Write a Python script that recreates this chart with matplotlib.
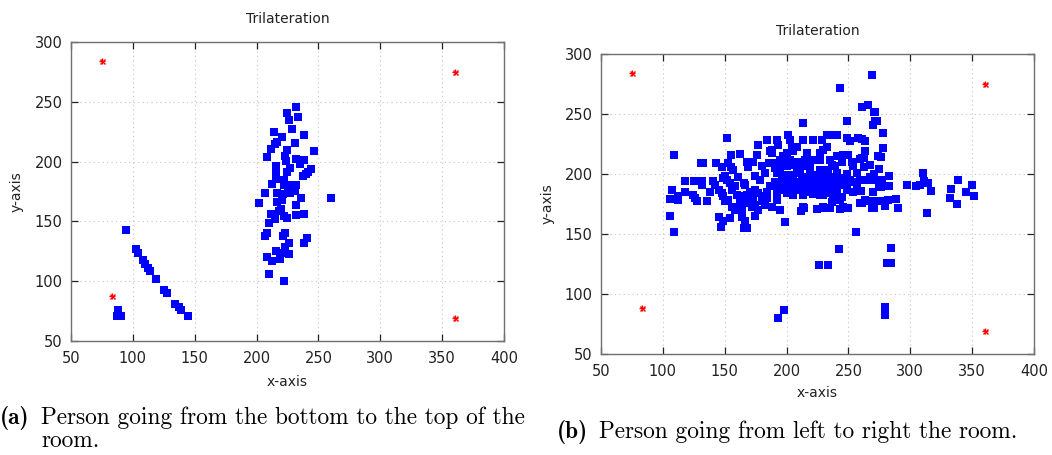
import matplotlib
matplotlib.use("Agg")
import matplotlib.pyplot as plt
import numpy as np

# Anchor (beacon) positions, same in both runs
anchor_x = [75, 83, 360, 360]
anchor_y = [284, 88, 275, 69]

# Run (a): walking from the bottom to the top of the room
a_x = [94.2, 102.2, 104.1, 108.2, 110.0, 112.2, 114.1, 118.4, 125.1, 127.5, 134.3, 137.0, 138.9, 144.2,
       88.0, 88.0, 90.1, 87.5,
       231.5, 224.7, 233.4, 226.1, 228.8, 214.2, 238.7, 220.7, 216.7, 214.8, 230.7, 211.3, 224.7, 246.3,
       208.6, 222.6, 232.0, 238.2, 223.4, 234.7, 215.6, 226.9, 244.1, 241.9, 224.2, 239.8, 237.7, 216.1,
       216.1, 222.1, 212.6, 222.1, 228.8, 231.8, 225.3, 229.6, 226.9, 231.2, 207.2, 216.6, 221.5, 236.3,
       260.3, 220.9, 201.9, 216.6, 231.5, 219.6, 218.3, 211.3, 238.2, 232.0, 222.1, 224.7, 214.8, 210.0,
       208.6, 207.2, 222.9, 221.5, 240.6, 238.2, 226.6, 222.9, 215.9, 220.7, 226.1, 208.6, 212.6, 218.6,
       210.0, 222.1]
a_y = [142.8, 126.9, 123.6, 117.5, 114.4, 111.3, 108.5, 102.1, 92.9, 90.1, 81.2, 78.4, 75.6, 70.9,
       75.6, 72.3, 70.9, 71.0,
       245.4, 240.6, 237.6, 235.1, 227.3, 224.5, 222.5, 220.6, 216.4, 214.7, 215.6, 210.8, 210.0, 208.6,
       203.8, 204.4, 202.5, 201.6, 200.5, 198.3, 196.3, 194.9, 193.5, 191.6, 191.3, 189.4, 188.0, 189.4,
       185.2, 184.3, 181.0, 180.7, 180.2, 180.2, 178.2, 177.4, 174.0, 175.4, 174.0, 174.0, 172.6, 169.8,
       169.8, 167.9, 165.1, 165.9, 163.7, 160.1, 158.7, 156.2, 155.9, 155.4, 154.8, 152.6, 151.7, 148.9,
       140.3, 137.5, 140.3, 137.5, 136.4, 131.9, 131.9, 128.9, 125.0, 123.6, 122.7, 120.5, 117.2, 118.6,
       106.0, 99.9]

# Run (b): walking from left to right across the room
b_x = [152.2, 109.2, 130.7, 132.8, 142.8, 147.7, 152.5, 155.2, 157.1, 154.7, 162.5, 167.9, 169.2, 173.2,
       175.9, 176.7, 184.0, 186.7, 118.0, 124.8, 131.5, 132.0, 140.9, 142.3, 149.0, 150.4, 151.7, 154.4,
       161.1, 165.2, 166.5, 107.3, 112.1, 112.1, 105.9, 118.0, 124.2, 126.1, 127.5, 135.5, 138.2, 145.0,
       147.7, 149.0, 150.4, 153.0, 155.7, 158.4, 161.1, 163.8, 166.5, 169.2, 173.2, 174.6, 180.0, 182.7,
       105.9, 109.4, 145.0, 148.5, 154.4, 163.8, 166.5, 165.2, 167.9, 147.1, 174.6, 155.7, 159.8, 163.8,
       167.9, 170.6, 174.6, 177.3, 180.0, 184.0, 186.7, 158.4, 162.5, 171.9, 177.3, 184.0, 180.0, 185.4,
       182.7, 174.6, 178.6,
       213.1, 248.6, 201.5, 202.9, 192.1, 193.4, 204.2, 208.2, 213.6, 221.7, 228.4, 232.5, 235.2, 240.6,
       248.6, 251.3, 258.1, 232.5, 188.0, 188.0, 200.2, 205.6, 215.0, 221.7, 227.1, 235.2, 240.6, 245.9,
       250.0, 259.4, 188.0, 197.5, 208.2, 213.6, 219.0, 227.1, 236.5, 239.2, 248.6, 256.7, 192.1, 196.1,
       202.9, 198.8, 205.6, 210.9, 219.0, 224.4, 228.4, 232.5, 237.9, 244.6, 251.3, 254.0, 189.4, 197.5,
       202.9, 208.2, 213.6, 219.0, 224.4, 229.8, 235.2, 240.6, 248.6, 256.7, 192.1, 200.2, 213.6, 221.7,
       227.1, 232.5, 244.6, 254.0, 192.1, 188.0, 194.8, 213.6, 224.4, 229.8, 236.5, 243.2, 245.9, 250.0,
       259.4, 198.8, 256.2,
       190.7, 194.8, 200.2, 204.2, 210.9, 216.3, 221.7, 227.1, 231.1, 233.8, 240.6, 243.3, 247.3, 243.3,
       239.2, 233.8, 229.8, 224.4, 221.7, 216.3, 212.3, 206.9, 201.5, 196.1, 190.7, 193.4, 198.8, 205.6,
       217.7, 229.8, 237.9, 240.6, 209.6, 202.9, 194.8, 219.0, 254.0, 252.7, 244.6, 216.3, 197.5, 227.1,
       229.8, 211.8, 213.7, 231.2, 235.2, 243.3,
       269.0, 260.9, 265.5, 270.9, 271.7, 271.7, 273.0, 269.5, 277.9, 260.9, 263.6, 277.9, 263.6, 260.9,
       262.2, 273.5, 276.3, 262.8, 267.1, 274.9, 283.0, 270.3, 267.6, 264.9, 271.7, 277.1, 259.5, 274.4,
       276.3, 282.5, 269.5, 260.0, 263.6, 267.6, 271.7, 275.7, 279.8, 281.6, 260.9, 269.0, 270.3, 279.5,
       288.4, 290.0, 297.3, 304.9, 308.1, 311.3, 310.0, 314.3, 316.7, 313.5, 338.3, 333.2, 332.4, 337.8,
       345.3, 349.9, 351.8,
       243.3, 242.5, 226.6, 233.3, 198.3, 193.2, 284.8, 281.0, 284.2, 279.4, 279.4]
b_y = [229.9, 215.5, 209.4, 209.4, 209.4, 205.7, 209.1, 205.7, 203.0, 215.5, 216.9, 209.6, 205.7, 209.6,
       216.0, 224.4, 228.6, 218.8, 194.1, 194.1, 194.1, 191.0, 193.8, 191.0, 196.6, 198.0, 195.2, 192.4,
       197.4, 192.4, 191.0, 186.3, 181.3, 178.5, 179.0, 184.9, 182.7, 179.9, 177.1, 177.6, 185.2, 186.8,
       184.0, 181.3, 177.1, 178.5, 172.9, 170.1, 172.9, 170.1, 175.7, 177.1, 179.9, 174.3, 177.1, 174.3,
       165.4, 151.5, 164.0, 161.2, 163.7, 164.0, 161.2, 155.4, 155.4, 155.7, 165.1, 186.8, 182.7, 181.3,
       182.7, 185.4, 186.8, 184.0, 181.3, 185.4, 189.6, 189.6, 178.5, 172.9, 170.1, 179.9, 206.3, 209.1,
       200.7, 198.0, 195.2,
       242.4, 243.8, 232.7, 228.5, 228.5, 224.3, 222.9, 222.9, 228.5, 228.5, 228.5, 232.7, 232.7, 232.7,
       229.9, 227.1, 229.9, 222.4, 220.2, 217.4, 217.4, 218.8, 211.3, 211.3, 211.8, 211.8, 215.2, 216.0,
       216.0, 212.4, 209.0, 209.0, 203.5, 206.3, 202.1, 203.5, 207.6, 206.3, 200.1, 200.7, 200.7, 199.3,
       199.3, 195.1, 196.5, 193.7, 195.1, 196.5, 194.6, 197.9, 197.4, 195.1, 195.1, 193.7, 189.6, 191.0,
       188.2, 186.8, 188.2, 189.6, 186.8, 188.2, 185.4, 186.8, 186.8, 188.2, 185.4, 184.0, 182.6, 183.4,
       182.6, 184.0, 181.2, 185.4, 178.4, 172.3, 170.1, 172.9, 170.6, 172.3, 177.0, 178.4, 172.3, 171.5,
       175.6, 160.3, 151.7,
       204.9, 203.5, 206.3, 207.6, 200.7, 197.9, 199.3, 197.9, 203.5, 200.7, 200.7, 196.5, 192.3, 191.0,
       191.0, 191.0, 192.3, 191.0, 193.7, 192.3, 196.5, 192.3, 193.7, 195.1, 193.7, 188.2, 186.8, 182.6,
       185.4, 182.6, 181.8, 181.2, 210.4, 211.8, 211.8, 206.3, 206.3, 210.4, 210.4, 217.4, 214.6, 217.4,
       220.2, 169.3, 171.5, 171.5, 171.5, 171.0,
       282.2, 256.1, 257.5, 251.4, 251.4, 244.4, 244.4, 240.8, 233.9, 229.2, 227.8, 221.4, 218.9, 213.1,
       213.1, 215.0, 213.9, 206.1, 207.5, 204.2, 198.6, 199.7, 197.8, 195.0, 195.0, 195.0, 195.0, 190.0,
       189.4, 190.0, 184.7, 185.6, 178.3, 177.8, 177.2, 177.2, 177.2, 178.3, 175.6, 171.9, 171.9, 173.3,
       179.4, 171.9, 191.1, 189.7, 190.6, 194.4, 200.6, 192.2, 185.8, 167.8, 195.3, 187.8, 179.7, 175.3,
       185.0, 191.1, 181.7,
       271.4, 137.3, 124.3, 124.3, 86.7, 79.8, 138.7, 126.2, 126.2, 89.5, 82.5]

x_ticks = [50, 100, 150, 200, 250, 300, 350, 400]
y_ticks = [50, 100, 150, 200, 250, 300]

W, H = 1052, 455
fig = plt.figure(figsize=(W / 100, H / 100), dpi=100)


def px_box(left, top, right, bottom):
    return [left / W, 1 - bottom / H, (right - left) / W, (bottom - top) / H]


def fx(x):
    return x / W


def fy(y):
    return 1 - y / H


def draw_panel(ax, xs, ys):
    ax.set_xlim(50, 400)
    ax.set_ylim(50, 300)
    ax.set_xticks(x_ticks)
    ax.set_yticks(y_ticks)
    ax.grid(True, color="#c4c4c4", linestyle=(0, (1, 3)), linewidth=0.8)
    ax.set_axisbelow(True)
    for s in ax.spines.values():
        s.set_color("#707070")
        s.set_linewidth(1.0)
    ax.tick_params(direction="in", length=5, width=0.9, color="#222222",
                   top=True, right=True, labelsize=10.5, labelcolor="#222222")
    ax.tick_params(axis="x", pad=7)
    ax.tick_params(axis="y", pad=6)
    ax.scatter(xs, ys, marker="s", s=34, color="#0000ff", linewidths=0, zorder=3)
    ax.plot(anchor_x, anchor_y, linestyle="none", marker="+", markersize=5,
            markeredgewidth=1.0, color="#ff0000", zorder=4)
    ax.plot(anchor_x, anchor_y, linestyle="none", marker="x", markersize=3.6,
            markeredgewidth=1.0, color="#ff0000", zorder=4)


ax1 = fig.add_axes(px_box(71, 42, 504, 341))
draw_panel(ax1, a_x, a_y)
ax2 = fig.add_axes(px_box(601, 54, 1034, 354))
draw_panel(ax2, b_x, b_y)

lab = dict(fontsize=10, color="#222222", ha="center", va="center")
fig.text(fx(287.5), fy(19), "Trilateration", **lab)
fig.text(fx(287.5), fy(382), "x-axis", **lab)
fig.text(fx(17), fy(191.5), "y-axis", rotation=90, **lab)
fig.text(fx(817.5), fy(31), "Trilateration", **lab)
fig.text(fx(817.5), fy(393), "x-axis", **lab)
fig.text(fx(548), fy(204), "y-axis", rotation=90, **lab)

# Sub-figure captions
cap = dict(fontsize=16.8, color="black", va="baseline")
fig.text(fx(0), fy(424), "(a)", family="cmb10", **cap)
fig.text(fx(41), fy(424), "Person going from the bottom to the top of the", family="cmr10", **cap)
fig.text(fx(41), fy(447), "room.", family="cmr10", **cap)
fig.text(fx(557), fy(438), "(b)", family="cmb10", **cap)
fig.text(fx(599), fy(438), "Person going from left to right the room.", family="cmr10", **cap)

fig.savefig("out.png", dpi=100)
